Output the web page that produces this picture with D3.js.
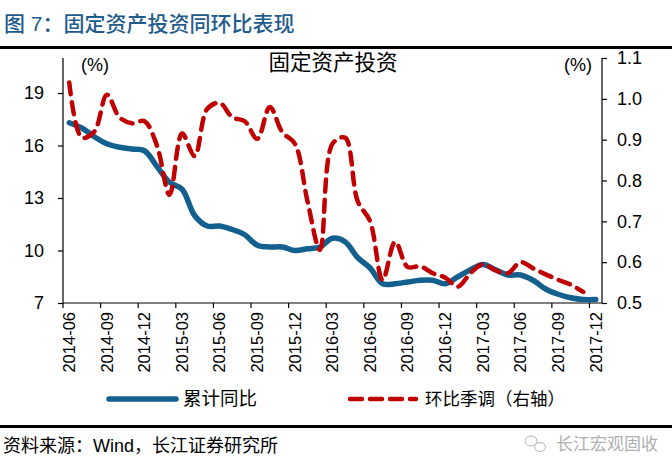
<!DOCTYPE html>
<html><head><meta charset="utf-8">
<script src="https://cdn.jsdelivr.net/npm/d3@7"></script>
<style>
html,body{margin:0;padding:0;background:#fff;}
svg{display:block;font-family:"Liberation Sans",Arial,"Noto Sans CJK SC",sans-serif;}
.cjk{font-family:"Liberation Sans","Noto Sans CJK SC",sans-serif;}
</style></head>
<body>
<svg id="c" width="672" height="462"></svg>
<script>
const months = ["2014-06","2014-07","2014-08","2014-09","2014-10","2014-11","2014-12",
"2015-01","2015-02","2015-03","2015-04","2015-05","2015-06","2015-07","2015-08","2015-09","2015-10","2015-11","2015-12",
"2016-01","2016-02","2016-03","2016-04","2016-05","2016-06","2016-07","2016-08","2016-09","2016-10","2016-11","2016-12",
"2017-01","2017-02","2017-03","2017-04","2017-05","2017-06","2017-07","2017-08","2017-09","2017-10","2017-11","2017-12"];
// 累计同比 (left axis, %)
const yoy = [17.3,17.0,16.5,16.1,15.9,15.8,15.7,14.8,13.9,13.5,12.0,11.4,11.4,11.2,10.9,10.3,10.2,10.2,10.0,
10.1,10.2,10.7,10.5,9.6,9.0,8.1,8.1,8.2,8.3,8.3,8.1,8.5,8.9,9.2,8.9,8.6,8.6,8.3,7.8,7.5,7.3,7.2,7.2];
// 环比季调 (right axis, %)
const qoq = [1.04,0.905,0.92,1.01,0.955,0.94,0.945,0.885,0.765,0.915,0.86,0.975,0.99,0.955,0.945,0.902,0.98,0.918,0.89,
0.75,0.63,0.89,0.905,0.75,0.70,0.556,0.65,0.588,0.59,0.573,0.562,0.54,0.573,0.595,0.58,0.573,0.60,0.585,0.57,0.557,0.545,0.527,null];
const leftTicks = [7,10,13,16,19];
const rightTicks = [0.5,0.6,0.7,0.8,0.9,1.0,1.1];
const xTickLabels = months.filter((m,i)=>i%3===0);

const svg = d3.select("#c");
const L = 63, R = 602, T = 58, B = 303;
const blue = "#135F8E", red = "#C00000";

const x = d3.scaleBand().domain(months).range([L,R]).paddingInner(0).paddingOuter(0);
const yL = d3.scaleLinear().domain([7,21]).range([B,T]);
const yR = d3.scaleLinear().domain([0.5,1.1]).range([B,T]);
const cx = m => x(m) + x.bandwidth()/2;

// Header
svg.append("text").attr("class","cjk").attr("x",4).attr("y",31).attr("fill","#1F5C8C")
  .attr("font-size",21).attr("font-weight",500).text("图 7：固定资产投资同环比表现");
svg.append("rect").attr("x",0).attr("y",46).attr("width",672).attr("height",3).attr("fill","#000");

// Chart title and units
svg.append("text").attr("class","cjk").attr("x",333).attr("y",70).attr("text-anchor","middle")
  .attr("font-size",21.5).attr("fill","#000").text("固定资产投资");
svg.append("text").attr("x",95).attr("y",71).attr("text-anchor","middle").attr("font-size",18).text("(%)");
svg.append("text").attr("x",578).attr("y",71).attr("text-anchor","middle").attr("font-size",18).text("(%)");

// Axes
const axL = svg.append("g").attr("transform",`translate(${L},0)`)
  .call(d3.axisLeft(yL).tickValues(leftTicks).tickSize(5).tickPadding(14).tickFormat(d3.format("d")));
const axR = svg.append("g").attr("transform",`translate(${R},0)`)
  .call(d3.axisRight(yR).tickValues(rightTicks).tickSize(5).tickPadding(10).tickFormat(d3.format(".1f")));
[axL,axR].forEach(a=>{
  a.select(".domain").attr("d", `M0,${T}V${B}`).attr("stroke","#000").attr("stroke-width",1.2);
  a.selectAll(".tick line").attr("stroke","#000").attr("stroke-width",1.2);
  a.selectAll(".tick text").attr("font-size",18).attr("fill","#000").attr("font-family","Liberation Sans, Arial, sans-serif");
});

// X axis
const gx = svg.append("g");
gx.append("line").attr("x1",L).attr("x2",R).attr("y1",B).attr("y2",B).attr("stroke","#000").attr("stroke-width",1.2);
months.forEach((m,i)=>{
  if(i%3===0){
    gx.append("line").attr("x1",x(m)).attr("x2",x(m)).attr("y1",B).attr("y2",B+5).attr("stroke","#000").attr("stroke-width",1.2);
  }
});
xTickLabels.forEach(m=>{
  gx.append("text").attr("transform",`translate(${cx(m)},${B+9}) rotate(-90)`)
    .attr("text-anchor","end").attr("dy","0.35em").attr("font-size",16.5).attr("fill","#000").text(m);
});

// Lines
const lineL = d3.line().defined(d=>d.v!=null).x(d=>cx(d.m)).y(d=>yL(d.v)).curve(d3.curveCatmullRom.alpha(0.5));
const lineR = d3.line().defined(d=>d.v!=null).x(d=>cx(d.m)).y(d=>yR(d.v)).curve(d3.curveCatmullRom.alpha(0.5));
svg.append("path").datum(months.map((m,i)=>({m,v:yoy[i]}))).attr("d",lineL)
  .attr("fill","none").attr("stroke",blue).attr("stroke-width",5.5).attr("stroke-linejoin","round").attr("stroke-linecap","round");
svg.append("path").datum(months.map((m,i)=>({m,v:qoq[i]}))).attr("d",lineR)
  .attr("fill","none").attr("stroke",red).attr("stroke-width",4.5).attr("stroke-dasharray","12,8")
  .attr("stroke-linejoin","round").attr("stroke-linecap","round");

// Legend
const ly = 399;
svg.append("line").attr("x1",109).attr("x2",176).attr("y1",ly).attr("y2",ly).attr("stroke",blue).attr("stroke-width",5.5).attr("stroke-linecap","round");
svg.append("text").attr("class","cjk").attr("x",183).attr("y",ly+6).attr("font-size",18.5).text("累计同比");
svg.append("line").attr("x1",350).attr("x2",416).attr("y1",ly).attr("y2",ly).attr("stroke",red).attr("stroke-width",4.5)
  .attr("stroke-dasharray","12,8").attr("stroke-linecap","round");
svg.append("text").attr("class","cjk").attr("x",425).attr("y",ly+6).attr("font-size",17.5).text("环比季调（右轴）");

svg.append("rect").attr("x",0).attr("y",425).attr("width",672).attr("height",3).attr("fill","#000");

// Source
svg.append("text").attr("class","cjk").attr("x",3).attr("y",452).attr("font-size",18).attr("fill","#000").text("资料来源：Wind，长江证券研究所");
// Watermark
const wm = svg.append("g").attr("fill","none").attr("stroke","#b5b5b5").attr("stroke-width",1);
wm.append("ellipse").attr("cx",531).attr("cy",441).attr("rx",6).attr("ry",5);
wm.append("ellipse").attr("cx",540).attr("cy",447).attr("rx",5.5).attr("ry",4.5);
svg.append("text").attr("class","cjk").attr("x",556).attr("y",450).attr("font-size",17).attr("fill","#b0b0b0").text("长江宏观固收");
</script>
</body></html>
